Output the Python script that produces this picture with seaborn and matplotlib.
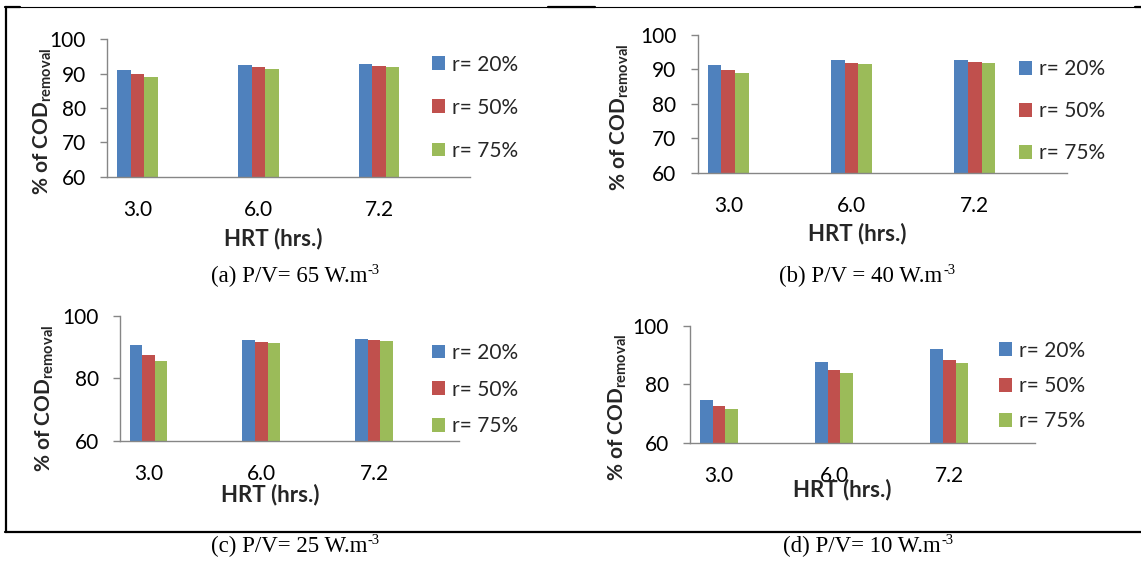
import matplotlib
matplotlib.use("Agg")
import matplotlib.pyplot as plt
from matplotlib.lines import Line2D
from matplotlib.text import Annotation
import seaborn as sns
import pandas as pd

# Hydraulic retention time categories and recycle ratios
hrt_labels = ["3.0", "6.0", "7.2"]
ratio_labels = ["r= 20%", "r= 50%", "r= 75%"]
bar_colors = ["#4F81BD", "#C0504D", "#9BBB59"]

# % COD removal, one list per recycle ratio, for each power input P/V
pv65_r20 = [91.2, 92.5, 92.8]
pv65_r50 = [89.9, 91.8, 92.2]
pv65_r75 = [89.1, 91.4, 91.8]

pv40_r20 = [91.2, 92.6, 92.7]
pv40_r50 = [89.8, 91.9, 92.1]
pv40_r75 = [89.0, 91.5, 91.9]

pv25_r20 = [90.7, 92.4, 92.7]
pv25_r50 = [87.5, 91.8, 92.2]
pv25_r75 = [85.6, 91.4, 91.9]

pv10_r20 = [74.6, 87.5, 91.9]
pv10_r50 = [72.4, 84.9, 88.2]
pv10_r75 = [71.5, 83.9, 87.1]

captions = [
    "(a) P/V= 65 W.m",
    "(b) P/V = 40 W.m",
    "(c) P/V= 25 W.m",
    "(d) P/V= 10 W.m",
]
caption_exponent = "-3"
y_ticks_fine = [60, 70, 80, 90, 100]
y_ticks_coarse = [60, 80, 100]
x_title = "HRT (hrs.)"
y_title = r"% of COD$_{\mathbf{removal}}$"

W, H = 1141, 561
GRAY = "#868686"

sns.set_style("white")
plt.rcParams["font.family"] = ["Lato", "DejaVu Sans"]
plt.rcParams["mathtext.fontset"] = "custom"
plt.rcParams["mathtext.rm"] = "Lato"
plt.rcParams["mathtext.bf"] = "Lato:bold"

fig = plt.figure(figsize=(W / 100, H / 100), dpi=100)

# Layout of each panel in pixels: axes box (left, top, right, bottom),
# axis-title centres, legend anchor (left, centre y, spacing), caption centre
panels = [
    dict(series=[pv65_r20, pv65_r50, pv65_r75], ticks=y_ticks_fine, caption=captions[0],
         box=(107.3, 39.3, 469.8, 176.7), ylab=(43.1, 121.7), xlab=(272.9, 238.3),
         leg=(432, 107.7, 1.11), cap=(289.0, 276.7)),
    dict(series=[pv40_r20, pv40_r50, pv40_r75], ticks=y_ticks_fine, caption=captions[1],
         box=(697.5, 35.0, 1067.1, 172.7), ylab=(620.0, 117.5), xlab=(856.8, 233.3),
         leg=(1019, 111.3, 1.06), cap=(861.0, 276.7)),
    dict(series=[pv25_r20, pv25_r50, pv25_r75], ticks=y_ticks_coarse, caption=captions[2],
         box=(120.2, 316.0, 458.8, 440.7), ylab=(44.4, 398.3), xlab=(270.0, 495.0),
         leg=(432, 389.5, 0.80), cap=(289.0, 546.7)),
    dict(series=[pv10_r20, pv10_r50, pv10_r75], ticks=y_ticks_coarse, caption=captions[3],
         box=(690.2, 325.7, 1035.4, 442.7), ylab=(617.3, 407.5), xlab=(842.2, 490.0),
         leg=(999, 386.0, 0.74), cap=(862.0, 546.7)),
]

for p in panels:
    L, T, R, B = p["box"]
    ax = fig.add_axes([L / W, 1 - B / H, (R - L) / W, (B - T) / H])

    df = pd.DataFrame({
        "HRT": hrt_labels * 3,
        "ratio": [lab for lab in ratio_labels for _ in hrt_labels],
        "COD": p["series"][0] + p["series"][1] + p["series"][2],
    })
    sns.barplot(data=df, x="HRT", y="COD", hue="ratio", order=hrt_labels,
                hue_order=ratio_labels, palette=bar_colors, saturation=1,
                width=0.335, gap=0, linewidth=0, errorbar=None, ax=ax)

    ax.set_xlim(-0.25, 2.75)
    ax.set_ylim(60, 100)
    ax.set_yticks(p["ticks"])

    for side in ("top", "right"):
        ax.spines[side].set_visible(False)
    for side in ("left", "bottom"):
        ax.spines[side].set_color(GRAY)
        ax.spines[side].set_linewidth(1.0)

    ax.tick_params(axis="y", length=5.3, width=1.0, color=GRAY, pad=10,
                   labelsize=15, labelcolor="black", left=True)
    ax.tick_params(axis="x", length=0, pad=16.5, labelsize=15, labelcolor="black")

    ax.set_xlabel(x_title, fontsize=16, fontweight="bold", va="center")
    ax.xaxis.set_label_coords((p["xlab"][0] - L) / (R - L), (B - p["xlab"][1]) / (B - T))
    ax.set_ylabel(y_title, fontsize=15, fontweight="bold", va="center", ha="center")
    ax.yaxis.set_label_coords((p["ylab"][0] - L) / (R - L), (B - p["ylab"][1]) / (B - T))

    old = ax.get_legend()
    handles = old.legend_handles
    labels = [t.get_text() for t in old.get_texts()]
    lx, ly, spacing = p["leg"]
    ax.legend(handles, labels, loc="center left", bbox_to_anchor=(lx / W, 1 - ly / H),
              bbox_transform=fig.transFigure, frameon=False, fontsize=15,
              handlelength=0.64, handleheight=0.64, handletextpad=0.3,
              labelspacing=spacing, borderpad=0, borderaxespad=0)

    # Caption below the panel, with a small raised exponent on the unit
    cx, cy = p["cap"]
    main = fig.text(cx / W, 1 - cy / H, p["caption"], ha="center", va="center",
                    fontsize=16.5, family="Liberation Serif", color="black")
    fig.add_artist(Annotation(caption_exponent, xy=(1.0, 1.1), xycoords=main,
                              xytext=(0.5, 0), textcoords="offset points",
                              ha="left", va="top", fontsize=10.5,
                              family="Liberation Serif", color="black"))

# Frame lines around the figure panels
def hline(y, x0, x1, lw):
    fig.add_artist(Line2D([x0 / W, x1 / W], [1 - y / H, 1 - y / H], color="black", lw=lw,
                          transform=fig.transFigure))

def vline(x, y0, y1, lw):
    fig.add_artist(Line2D([x / W, x / W], [1 - y0 / H, 1 - y1 / H], color="black", lw=lw,
                          transform=fig.transFigure))

hline(7.3, 5, 1141, 0.8)
hline(7.3, 5, 20, 1.6)
hline(7.3, 548, 595, 1.6)
hline(7.3, 1135, 1141, 1.6)
vline(5.8, 7, 532, 1.6)
hline(532, 5, 1141, 1.6)

fig.savefig("out.png", dpi=100, facecolor="white")
